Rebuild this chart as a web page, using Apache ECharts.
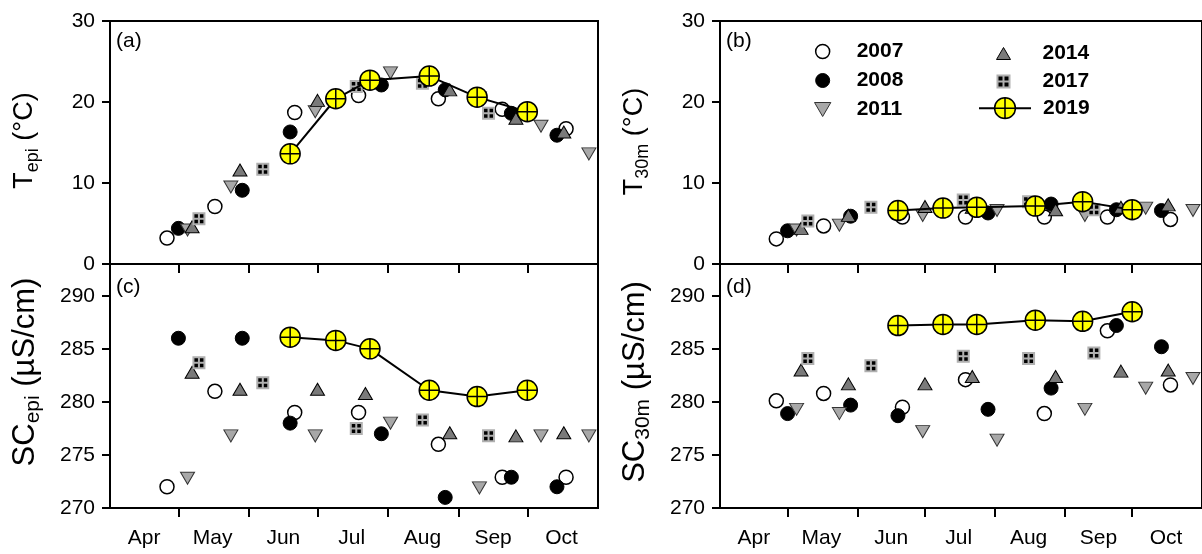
<!DOCTYPE html>
<html><head><meta charset="utf-8">
<script src="https://cdn.jsdelivr.net/npm/echarts@6/dist/echarts.min.js"></script>
<style>html,body{margin:0;padding:0;background:#fff}#c{width:1202px;height:554px}</style>
</head><body><div id="c"></div>
<script>
// ---- axis tick / label data (day of year) ----
const monthNames = ['Apr','May','Jun','Jul','Aug','Sep','Oct'];
const monthStarts = [121,152,182,213,244,274];
const monthMids = [106,136,167,197,228,259,289];
const years = ['2007','2008','2011','2014','2017','2019'];

// ---- sampling days (day of year) ----
const day2007 = [116,137,172,200,235,263,291];
const day2008 = [121,149,170,210,238,267,287];
const day2011 = [125,144,181,214,253,280,301];
const day2014 = [127,148,182,203,240,269,290];
const day2017 = [130,158,199,228,257];
const day2019 = [170,190,205,231,252,274];

// ---- (a) T_epi ----
const tEpi2007 = [3.2,7.1,18.7,20.8,20.4,19.1,16.7];
const tEpi2008 = [4.4,9.1,16.3,22.1,21.5,18.6,15.9];
const tEpi2011 = [4.2,9.5,18.8,23.6,20.5,17.0,13.6];
const tEpi2014 = [4.6,11.6,20.2,22.4,21.5,18.0,16.3];
const tEpi2017 = [5.6,11.7,21.9,22.3,18.6];
const tEpi2019 = [13.6,20.4,22.7,23.2,20.6,18.8];

// ---- (b) T_30m ----
const t30m2007 = [3.1,4.7,5.8,5.8,5.8,5.8,5.5];
const t30m2008 = [4.1,5.9,6.5,6.3,7.4,6.7,6.6];
const t30m2011 = [4.2,4.8,6.0,6.6,6.0,6.9,6.6];
const t30m2014 = [4.4,6.0,7.1,7.0,6.7,7.0,7.3];
const t30m2017 = [5.3,7.0,7.9,7.7,6.7];
const t30m2019 = [6.6,6.9,7.0,7.15,7.7,6.7];

// ---- (c) SC_epi ----
const scEpi2007 = [272.0,281.0,279.0,279.0,276.0,272.9,272.9];
const scEpi2008 = [286.0,286.0,278.0,277.0,271.0,272.9,272.0];
const scEpi2011 = [272.8,276.8,276.8,278.0,271.9,276.8,276.8];
const scEpi2014 = [282.8,281.2,281.2,280.8,277.1,276.8,277.1];
const scEpi2017 = [283.7,281.8,277.5,278.3,276.8];
const scEpi2019 = [286.1,285.8,285.0,281.1,280.5,281.1];

// ---- (d) SC_30m ----
const sc30m2007 = [280.1,280.8,279.5,282.1,278.9,286.7,281.6];
const sc30m2008 = [278.9,279.7,278.7,279.3,281.3,287.2,285.2];
const sc30m2011 = [279.3,278.9,277.2,276.4,279.3,281.3,282.2];
const sc30m2014 = [283.0,281.7,281.7,282.4,282.4,282.9,283.0];
const sc30m2017 = [284.1,283.4,284.3,284.1,284.6];
const sc30m2019 = [287.2,287.3,287.3,287.7,287.6,288.5];

const days = {'2007':day2007,'2008':day2008,'2011':day2011,'2014':day2014,'2017':day2017,'2019':day2019};
const panelValues = [
  {'2007':tEpi2007,'2008':tEpi2008,'2011':tEpi2011,'2014':tEpi2014,'2017':tEpi2017,'2019':tEpi2019},
  {'2007':t30m2007,'2008':t30m2008,'2011':t30m2011,'2014':t30m2014,'2017':t30m2017,'2019':t30m2019},
  {'2007':scEpi2007,'2008':scEpi2008,'2011':scEpi2011,'2014':scEpi2014,'2017':scEpi2017,'2019':scEpi2019},
  {'2007':sc30m2007,'2008':sc30m2008,'2011':sc30m2011,'2014':sc30m2014,'2017':sc30m2017,'2019':sc30m2019}
];

const FONT = '"Liberation Sans", Arial, sans-serif';
const SYM_DOWN = 'path://M0,0L14,0L7,12Z';
const SYM_UP = 'path://M7,0L14,12L0,12Z';
const SYM_QUAD = 'path://M0,0H5.5V5.5H0ZM5.5,0H11V5.5H5.5ZM0,5.5H5.5V11H0ZM5.5,5.5H11V11H5.5Z';
const SYM_CROSS = 'path://M-10,0A10,10,0,1,1,10,0A10,10,0,1,1,-10,0ZM-10,0L10,0M0,-10L0,10';

const yearStyle = {
  '2007': {symbol:'circle', symbolSize:14, itemStyle:{color:'#ffffff', borderColor:'#000', borderWidth:1.5, opacity:1}},
  '2008': {symbol:'circle', symbolSize:14, itemStyle:{color:'#000000', borderColor:'#000', borderWidth:1, opacity:1}},
  '2011': {symbol:SYM_DOWN, symbolSize:[14,12], itemStyle:{color:'#a8a8a8', borderColor:'#333', borderWidth:1, opacity:1}},
  '2014': {symbol:SYM_UP, symbolSize:[14,12], itemStyle:{color:'#7a7a7a', borderColor:'#000', borderWidth:1, opacity:1}},
  '2017': {symbol:SYM_QUAD, symbolSize:11, itemStyle:{color:'#000000', borderColor:'#b0b0b0', borderWidth:2, opacity:1}},
  '2019': {symbol:SYM_CROSS, symbolSize:20, itemStyle:{color:'#ffff00', borderColor:'#000', borderWidth:1.5, opacity:1}}
};

const grids = [
  {left:110, top:21, width:488, height:243},
  {left:720, top:21, width:488, height:243},
  {left:110, top:264, width:488, height:244},
  {left:720, top:264, width:488, height:244}
].map(g => Object.assign({show:true, borderColor:'#000', borderWidth:2, backgroundColor:'transparent', containLabel:false}, g));

const lineSt = {color:'#000', width:2};
function xAxis(i, labels) {
  return {
    gridIndex:i, type:'value', min:91, max:305,
    axisLine:{show:true, onZero:false, lineStyle:lineSt},
    axisTick:{show:true, length:9, customValues:monthStarts, lineStyle:lineSt},
    axisLabel: labels ? {show:true, customValues:monthMids, margin:20, fontSize:21, color:'#000', fontFamily:FONT,
      formatter: v => monthNames[monthMids.indexOf(v)] || ''} : {show:false},
    splitLine:{show:false}
  };
}
function nameRich(fs, sfs, lh) {
  return {
    m:{fontSize:fs, lineHeight:lh, color:'#000', fontFamily:FONT},
    s:{fontSize:sfs, lineHeight:14, verticalAlign:'bottom', color:'#000', fontFamily:FONT}
  };
}
function yAxis(i, min, max, interval, name, pad, fs, sfs, lh, gap) {
  return {
    gridIndex:i, type:'value', min:min, max:max, interval:interval,
    axisLine:{show:true, onZero:false, lineStyle:lineSt},
    axisTick:{show:true, length:8, lineStyle:lineSt},
    axisLabel:{fontSize:21, color:'#000', margin:15, fontFamily:FONT,
      formatter: v => (v % interval === 0 ? String(v) : '')},
    splitLine:{show:false},
    name:name, nameLocation:'middle', nameRotate:90, nameGap:gap,
    nameTextStyle:{rich:nameRich(fs, sfs, lh), padding:pad}
  };
}

const series = [];
panelValues.forEach((vals, p) => {
  years.forEach(y => {
    const st = yearStyle[y];
    const s = {
      name:y, type: y === '2019' ? 'line' : 'scatter',
      xAxisIndex:p, yAxisIndex:p,
      data: days[y].map((d, k) => [d, vals[y][k]]),
      symbol:st.symbol, symbolSize:st.symbolSize, itemStyle:st.itemStyle,
      emphasis:{disabled:true}, animation:false
    };
    if (y === '2019') { s.lineStyle = {color:'#000', width:2}; s.showSymbol = true; s.z = 5; }
    series.push(s);
  });
});

const legendText = pad => ({fontSize:21, fontWeight:'bold', color:'#000', fontFamily:FONT, lineHeight:21, padding:[0,0,0,pad]});
const option = {
  animation:false,
  backgroundColor:'#fff',
  title:[
    {text:'(a)', left:116, top:31, padding:0, textStyle:{fontSize:21, fontWeight:'normal', color:'#000', fontFamily:FONT}},
    {text:'(b)', left:726, top:31, padding:0, textStyle:{fontSize:21, fontWeight:'normal', color:'#000', fontFamily:FONT}},
    {text:'(c)', left:116, top:277, padding:0, textStyle:{fontSize:21, fontWeight:'normal', color:'#000', fontFamily:FONT}},
    {text:'(d)', left:726, top:277, padding:0, textStyle:{fontSize:21, fontWeight:'normal', color:'#000', fontFamily:FONT}}
  ],
  legend:[
    {data:[{name:'2007', itemStyle:{borderWidth:1.5}}, {name:'2008', itemStyle:{borderWidth:1}}, {name:'2011', itemStyle:{borderWidth:1}}],
     orient:'vertical', left:814, top:41, itemWidth:52, itemHeight:14, itemGap:8, padding:0, selectedMode:false, textStyle:legendText(3)},
    {data:[{name:'2014', itemStyle:{borderWidth:1}}, {name:'2017', itemStyle:{borderWidth:2}}],
     orient:'vertical', left:996, top:43, itemWidth:52, itemHeight:12, itemGap:7, padding:0, selectedMode:false, textStyle:legendText(8)},
    {data:[{name:'2019', itemStyle:{borderWidth:1.5}}],
     orient:'vertical', left:978, top:97, itemWidth:52, itemHeight:26, padding:0, selectedMode:false, textStyle:legendText(7)}
  ],
  grid:grids,
  xAxis:[xAxis(0,false), xAxis(1,false), xAxis(2,true), xAxis(3,true)],
  yAxis:[
    yAxis(0, 0, 30, 10, '{m|T}{s|epi}{m| (°C)}', [0,0,0,4], 27, 18, 34, 68),
    yAxis(1, 0, 30, 10, '{m|T}{s|30m}{m| (°C)}', [0,0,0,2], 27, 18, 34, 68),
    yAxis(2, 270, 293, 5, '{m|SC}{s|epi}{m| (µS/cm)}', [0,0,0,28], 31, 21, 38, 66),
    yAxis(3, 270, 293, 5, '{m|SC}{s|30m}{m| (µS/cm)}', [0,0,0,8], 31, 21, 38, 66)
  ],
  series:series
};
const chart = echarts.init(document.getElementById('c'), null, {renderer:'canvas'});
chart.setOption(option);
</script>
</body></html>
